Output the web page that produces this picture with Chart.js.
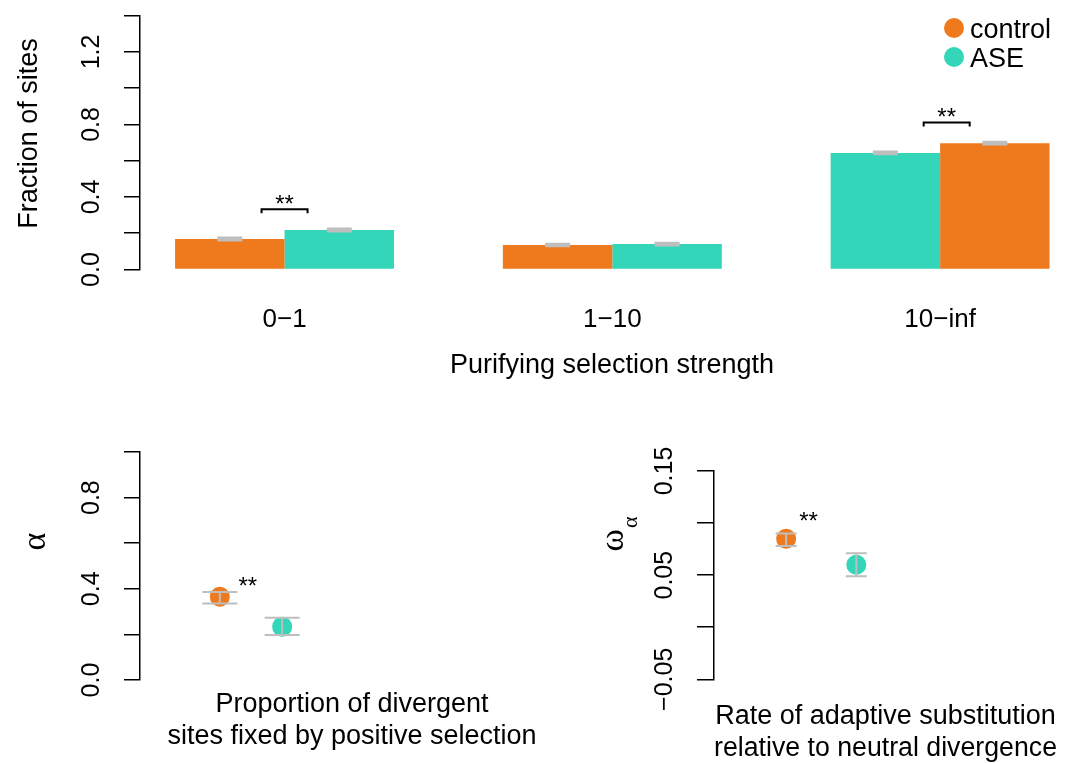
<!DOCTYPE html>
<html>
<head>
<meta charset="utf-8">
<script src="https://cdn.jsdelivr.net/npm/chart.js@4.4.1/dist/chart.umd.min.js"></script>
<style>
  html, body { margin: 0; padding: 0; background: #fff; overflow: hidden; }
  body { width: 1067px; height: 763px; position: relative; overflow: hidden; font-family: "Liberation Sans", Arial, sans-serif; }
  .box { position: absolute; }
  #topBox { left: 0; top: 0; width: 1091px; height: 400px; }
  #alphaBox { left: 0; top: 420px; width: 580px; height: 343px; }
  #omegaBox { left: 580px; top: 420px; width: 487px; height: 343px; }
  #legend { position: absolute; left: 944px; top: 15px; font-size: 27px; line-height: 29px; color: #000; }
  .item { display: flex; align-items: center; }
  .dot { display: inline-block; width: 20px; height: 20px; border-radius: 50%; margin-right: 6px; position: relative; top: -2px; }
</style>
</head>
<body>
<div class="box" id="topBox"><canvas id="fracChart"></canvas></div>
<div class="box" id="alphaBox"><canvas id="alphaChart"></canvas></div>
<div class="box" id="omegaBox"><canvas id="omegaChart"></canvas></div>
<div id="legend"></div>

<script>
// --- data ---
const seriesNames = ['control', 'ASE'];
const groupLabels = ['0\u22121', '1\u221210', '10\u2212inf'];

// top panel: fraction of sites per purifying selection class
const controlFrac = [0.168, 0.135, 0.697];
const aseFrac = [0.218, 0.140, 0.643];
const controlFracErr = [0.007, 0.006, 0.006];
const aseFracErr = [0.007, 0.006, 0.006];
const controlFirst = [true, true, false];   // bar order inside each group
const fracTickLabels = ['0.0', '0.4', '0.8', '1.2'];
const fracSigX = [1.0, 3.02];
const fracSigY = [0.333, 0.811];

// bottom left: alpha
const alphaVal = [0.365, 0.234];
const alphaLow = [0.336, 0.197];
const alphaHigh = [0.386, 0.273];
const alphaTickLabels = ['0.0', '0.4', '0.8'];

// bottom right: omega alpha
const omegaVal = [0.085, 0.060];
const omegaLow = [0.078, 0.049];
const omegaHigh = [0.090, 0.071];
const omegaTickLabels = ['\u22120.05', '0.05', '0.15'];

const colors = { control: '#EF7A1D', ASE: '#33D6B8' };

Chart.defaults.font.family = '"Liberation Sans", Arial, sans-serif';
Chart.defaults.color = '#000';

// legend
const legend = document.getElementById('legend');
seriesNames.forEach(s => {
    const row = document.createElement('div');
    row.className = 'item';
    row.innerHTML = '<span class="dot" style="background:' + colors[s] + '"></span>' + s;
    legend.appendChild(row);
});

// gray error bars with caps
const errorBars = {
    id: 'errorBars',
    afterDatasetsDraw(chart, args, opts) {
        const ctx = chart.ctx;
        const y = chart.scales.y;
        ctx.save();
        ctx.strokeStyle = '#BEBEBE';
        ctx.lineWidth = opts.width;
        chart.data.datasets.forEach((ds, d) => {
            chart.getDatasetMeta(d).data.forEach((el, i) => {
                const lo = y.getPixelForValue(ds.errLow[i]);
                const hi = y.getPixelForValue(ds.errHigh[i]);
                const h = opts.cap / 2;
                ctx.beginPath();
                ctx.moveTo(el.x, lo); ctx.lineTo(el.x, hi);
                ctx.moveTo(el.x - h, lo); ctx.lineTo(el.x + h, lo);
                ctx.moveTo(el.x - h, hi); ctx.lineTo(el.x + h, hi);
                ctx.stroke();
            });
        });
        ctx.restore();
    }
};

// significance stars (and brackets on the bar panel)
const sigMarks = {
    id: 'sigMarks',
    afterDatasetsDraw(chart, args, opts) {
        const ctx = chart.ctx;
        const xs = chart.scales.x, ys = chart.scales.y;
        ctx.save();
        ctx.fillStyle = '#000';
        ctx.strokeStyle = '#000';
        ctx.lineWidth = 2;
        ctx.font = '24px "Liberation Sans", Arial, sans-serif';
        ctx.textAlign = 'center';
        ctx.textBaseline = 'alphabetic';
        opts.x.forEach((xv, i) => {
            const px = xs.getPixelForValue(xv);
            const py = ys.getPixelForValue(opts.y[i]);
            if (opts.bracket) {
                const h = opts.bracket;
                ctx.beginPath();
                ctx.moveTo(px - h, py + 4);
                ctx.lineTo(px - h, py);
                ctx.lineTo(px + h, py);
                ctx.lineTo(px + h, py + 4);
                ctx.stroke();
                ctx.fillText('**', px, py + 3);
            } else {
                ctx.fillText('**', px, py + 11);
            }
        });
        ctx.restore();
    }
};

// rotated y-axis titles (with optional subscript), placed on the y scale
const yTitle = {
    id: 'yTitle',
    afterDraw(chart, args, opts) {
        const ctx = chart.ctx;
        const y = chart.scales.y.getPixelForValue(opts.value);
        ctx.save();
        ctx.translate(opts.x, y);
        ctx.rotate(-Math.PI / 2);
        ctx.fillStyle = '#000';
        ctx.textBaseline = 'alphabetic';
        ctx.font = opts.font;
        ctx.textAlign = opts.sub ? 'right' : 'center';
        ctx.fillText(opts.text, 0, 0);
        if (opts.sub) {
            ctx.font = opts.subFont;
            ctx.textAlign = 'left';
            ctx.fillText(opts.sub, 1, 14);
        }
        ctx.restore();
    }
};

const greekFont = '34px "Liberation Serif", "DejaVu Serif", serif';
const greekSubFont = '22px "Liberation Serif", "DejaVu Serif", serif';

function yAxis(min, max, step, labels, digits, width, tickLen, pad) {
    return {
        min: min, max: max,
        afterFit: (s) => { s.width = width; s.paddingTop = 0; s.paddingBottom = 0; },
        ticks: {
            stepSize: step, autoSkip: false, minRotation: 90, maxRotation: 90,
            crossAlign: 'center', padding: pad, font: { size: 25 },
            callback: (v) => {
                const t = v.toFixed(digits).replace('-', '\u2212');
                return labels.includes(t) ? t : '';
            }
        },
        grid: { drawOnChartArea: false, tickLength: tickLen, color: '#000', lineWidth: 1.5 },
        border: { color: '#000', width: 1.5 }
    };
}

// ---------- top: bar chart ----------
const leftSeries = controlFirst.map(c => c ? 'control' : 'ASE');
const rightSeries = controlFirst.map(c => c ? 'ASE' : 'control');
const fracVals = { control: controlFrac, ASE: aseFrac };
const fracErrs = { control: controlFracErr, ASE: aseFracErr };

function barSet(series) {
    return {
        data: series.map((s, i) => ({ x: i + 1, y: fracVals[s][i] })),
        backgroundColor: series.map(s => colors[s]),
        errLow: series.map((s, i) => fracVals[s][i] - fracErrs[s][i]),
        errHigh: series.map((s, i) => fracVals[s][i] + fracErrs[s][i])
    };
}

new Chart(document.getElementById('fracChart'), {
    type: 'bar',
    data: { datasets: [barSet(leftSeries), barSet(rightSeries)] },
    options: {
        responsive: true,
        maintainAspectRatio: false,
        animation: false,
        events: [],
        layout: { padding: { top: 15.7, right: 7, left: 0, bottom: 0 } },
        datasets: { bar: { categoryPercentage: 0.668, barPercentage: 1, borderWidth: 0 } },
        plugins: {
            legend: { display: false },
            tooltip: { enabled: false },
            errorBars: { cap: 25, width: 2.5 },
            sigMarks: { x: fracSigX, y: fracSigY, bracket: 23 },
            yTitle: { text: 'Fraction of sites', font: '27px "Liberation Sans", Arial, sans-serif', x: 36.5, value: 0.75 }
        },
        scales: {
            x: {
                type: 'linear', min: 0.559, max: 3.439, offset: false,
                afterBuildTicks: (s) => { s.ticks = groupLabels.map((g, i) => ({ value: i + 1 })); },
                afterFit: (s) => { s.height = 130.5; s.paddingLeft = 0; s.paddingRight = 0; },
                grid: { display: false, drawTicks: false },
                border: { display: false },
                ticks: { callback: (v) => groupLabels[v - 1], font: { size: 26 }, padding: 35, autoSkip: false, maxRotation: 0 },
                title: { display: true, text: 'Purifying selection strength', font: { size: 27 }, padding: { bottom: 17.8 } }
            },
            y: yAxis(0, 1.4, 0.2, fracTickLabels, 1, 140, 16, 14.6)
        }
    },
    plugins: [errorBars, sigMarks, yTitle]
});

// ---------- bottom: point estimates ----------
function pointSets(val, low, high) {
    return seriesNames.map((s, i) => ({
        label: s,
        data: [{ x: i + 1, y: val[i] }],
        backgroundColor: colors[s],
        errLow: [low[i]],
        errHigh: [high[i]]
    }));
}

function pointChart(id, datasets, opts) {
    return new Chart(document.getElementById(id), {
        type: 'scatter',
        data: { datasets: datasets },
        options: {
            responsive: true,
            maintainAspectRatio: false,
            animation: false,
            events: [],
            layout: { padding: { top: opts.top, right: opts.right, left: 0, bottom: 0 } },
            elements: { point: { radius: 10, borderWidth: 0, hoverRadius: 10 } },
            plugins: {
                legend: { display: false },
                tooltip: { enabled: false },
                errorBars: { cap: opts.cap, width: 2 },
                sigMarks: { x: [opts.starX], y: [opts.starY], bracket: 0 },
                yTitle: opts.yTitle
            },
            scales: {
                x: {
                    type: 'linear', min: opts.xmin, max: opts.xmax,
                    afterFit: (s) => { s.height = opts.xh; s.paddingLeft = 0; s.paddingRight = 0; },
                    ticks: { display: false },
                    grid: { display: false, drawTicks: false },
                    border: { display: false },
                    title: { display: true, text: opts.title, font: { size: 27, lineHeight: opts.titleLH }, padding: { bottom: opts.titlePad } }
                },
                y: opts.y
            }
        },
        plugins: [errorBars, sigMarks, yTitle]
    });
}

pointChart('alphaChart', pointSets(alphaVal, alphaLow, alphaHigh), {
    top: 32, right: 16, xmin: -0.28, xmax: 6.52, xh: 83, cap: 35,
    starX: 1.45, starY: 0.427,
    title: ['Proportion of divergent', 'sites fixed by positive selection'], titleLH: 1.163, titlePad: 11,
    yTitle: { text: '\u03b1', font: greekFont, x: 44.6, value: 0.607 },
    y: yAxis(0, 1, 0.2, alphaTickLabels, 1, 140, 16, 14.6)
});

pointChart('omegaChart', pointSets(omegaVal, omegaLow, omegaHigh), {
    top: 51, right: 6, xmin: -0.028, xmax: 4.86, xh: 83.7, cap: 21,
    starX: 1.32, starY: 0.1045,
    title: ['Rate of adaptive substitution', 'relative to neutral divergence'], titleLH: 1.185, titlePad: -2,
    yTitle: { text: '\u03c9', sub: '\u03b1', font: greekFont, subFont: greekSubFont, x: 43, value: 0.0943 },
    y: yAxis(-0.05, 0.15, 0.05, omegaTickLabels, 2, 134, 17, 0)
});
</script>
</body>
</html>
